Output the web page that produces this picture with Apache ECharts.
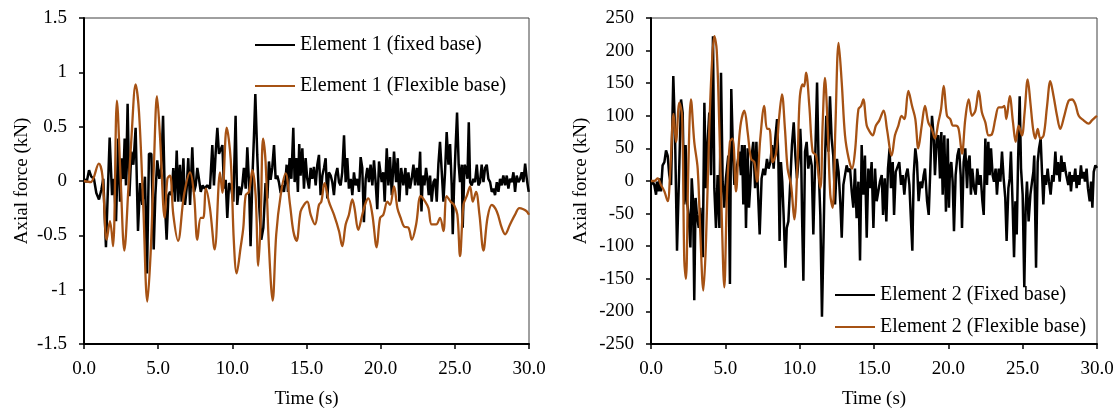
<!DOCTYPE html>
<html>
<head>
<meta charset="utf-8">
<script src="https://cdn.jsdelivr.net/npm/echarts@6/dist/echarts.min.js"></script>
<style>
html,body{margin:0;padding:0;background:#fff;}
#c{width:1118px;height:414px;}
</style>
</head>
<body>
<div id="c"></div>
<script>
// ---- Data (time in s, axial force in kN) ----
const xTicks = [0, 5, 10, 15, 20, 25, 30];
const leftNames = ['Element 1 (fixed base)', 'Element 1 (Flexible base)'];
const rightNames = ['Element 2 (Fixed base)', 'Element 2 (Flexible base)'];

const e1Fixed = [
[0,0.02],[0.18,-0.01],[0.34,0.10],[0.49,0.04],[0.67,0.02],[0.83,-0.11],[1.01,-0.17],[1.17,-0.08],[1.30,0.02],[1.48,-0.61],
[1.73,0.40],[1.89,-0.13],[2.02,0.02],[2.16,-0.37],[2.31,0.39],[2.43,-0.19],[2.54,0.21],[2.65,0.02],[2.74,0.39],[2.83,-0.04],
[2.94,0.71],[3.06,-0.14],[3.19,0.27],[3.33,0.15],[3.48,0.49],[3.64,-0.46],[3.78,-0.02],[3.93,-0.22],[4.11,0.04],[4.25,-0.85],
[4.38,0.25],[4.54,0.25],[4.70,-0.63],[4.81,-0.13],[4.94,0.19],[5.08,0.02],[5.21,0.12],[5.33,0.60],[5.46,-0.22],[5.57,-0.54],
[5.69,-0.13],[5.80,-0.10],[5.91,-0.13],[6.02,0.12],[6.13,-0.19],[6.25,0.28],[6.36,-0.19],[6.47,0.15],[6.58,-0.19],[6.70,0.21],
[6.81,-0.22],[6.92,-0.07],[7.03,0.21],[7.15,-0.22],[7.30,0.31],[7.42,-0.10],[7.53,-0.04],[7.64,0.12],[7.75,0.02],[7.87,-0.10],
[8.00,-0.04],[8.13,-0.07],[8.31,-0.04],[8.49,-0.07],[8.65,0.33],[8.76,-0.04],[8.88,0.27],[8.99,0.49],[9.10,0.25],[9.21,0.24],
[9.33,0.33],[9.44,-0.07],[9.55,0.01],[9.66,-0.34],[9.78,-0.02],[9.89,-0.04],[10.07,-0.19],[10.22,0.60],[10.33,-0.22],[10.45,-0.05],
[10.56,-0.13],[10.67,-0.04],[10.78,0.12],[10.90,-0.07],[11.01,0.31],[11.12,-0.01],[11.23,-0.60],[11.35,0.02],[11.46,0.42],[11.55,0.80],
[11.68,0.24],[11.82,-0.25],[11.95,-0.54],[12.09,-0.43],[12.24,-0.02],[12.36,-0.16],[12.47,0.18],[12.58,0.01],[12.69,0.12],[12.81,0.33],
[12.92,0.02],[13.03,0.05],[13.14,-0.01],[13.26,-0.11],[13.37,-0.04],[13.48,-0.10],[13.59,0.02],[13.66,0.15],[13.75,-0.10],[13.86,0.21],
[13.98,0.02],[14.11,0.49],[14.20,-0.01],[14.31,0.21],[14.42,-0.10],[14.51,0.34],[14.60,0.05],[14.72,0.30],[14.83,-0.07],[14.94,0.21],
[15.05,0.02],[15.17,-0.07],[15.28,0.12],[15.39,0.02],[15.50,0.13],[15.62,-0.04],[15.73,0.15],[15.84,0.24],[15.95,-0.13],[16.07,0.05],
[16.18,0.12],[16.29,0.21],[16.40,-0.16],[16.51,0.08],[16.63,0.05],[16.74,-0.01],[16.85,-0.13],[16.96,0.05],[17.08,0.12],[17.19,-0.01],
[17.30,-0.04],[17.41,0.08],[17.53,0.42],[17.64,-0.01],[17.75,0.21],[17.86,-0.07],[17.98,0.02],[18.09,-0.13],[18.20,0.08],[18.31,-0.04],
[18.43,0.02],[18.54,-0.10],[18.65,0.22],[18.76,0.12],[18.87,-0.38],[18.99,0.02],[19.10,0.12],[19.21,-0.01],[19.32,0.15],[19.44,-0.04],
[19.55,0.19],[19.66,-0.01],[19.77,-0.26],[19.89,0.18],[20.07,-0.01],[20.18,0.08],[20.27,-0.19],[20.41,0.30],[20.52,-0.04],[20.63,0.22],
[20.75,-0.13],[20.90,0.27],[21.04,-0.01],[21.15,0.21],[21.26,-0.19],[21.38,0.12],[21.53,-0.04],[21.67,0.12],[21.76,-0.13],[21.87,0.08],
[21.98,-0.07],[22.09,0.02],[22.21,0.15],[22.32,-0.04],[22.43,0.12],[22.54,-0.04],[22.66,0.27],[22.75,-0.28],[22.84,0.05],[22.95,-0.04],
[23.06,0.12],[23.15,0.02],[23.24,-0.13],[23.33,0.05],[23.44,-0.19],[23.56,-0.01],[23.67,0.02],[23.78,-0.19],[23.89,0.15],[24.00,0.36],
[24.12,0.08],[24.23,-0.19],[24.34,0.08],[24.45,0.45],[24.57,0.15],[24.68,0.34],[24.79,-0.04],[24.86,-0.49],[24.95,-0.04],[25.04,0.27],
[25.15,0.63],[25.26,0.15],[25.35,-0.01],[25.47,0.15],[25.53,-0.43],[25.65,0.15],[25.76,0.12],[25.85,0.02],[25.94,0.54],[26.03,-0.01],
[26.14,-0.04],[26.25,0.02],[26.36,-0.01],[26.48,0.15],[26.59,-0.04],[26.70,-0.01],[26.81,0.15],[26.93,-0.01],[27.04,0.12],[27.15,0.15],
[27.26,0.02],[27.38,-0.01],[27.49,-0.10],[27.60,-0.07],[27.71,-0.13],[27.83,-0.01],[27.94,-0.10],[28.05,0.02],[28.16,-0.04],[28.27,0.05],
[28.39,-0.04],[28.50,0.05],[28.61,-0.07],[28.72,0.02],[28.84,-0.01],[28.95,0.08],[29.06,-0.10],[29.17,0.05],[29.29,-0.01],[29.40,0.02],
[29.51,0.08],[29.62,-0.01],[29.74,0.16],[29.85,0.02],[29.98,-0.10]
];

const e1Flexible = [
[0,0],[0.45,-0.01],[1.0,0.16],[1.24,0.05],[1.53,-0.54],[1.75,-0.37],[1.96,-0.60],[2.22,0.74],[2.47,0.02],[2.72,-0.64],
[3.0,-0.05],[3.2,0.40],[3.48,0.89],[3.71,0.63],[4.0,-0.25],[4.27,-1.11],[4.49,-0.67],[4.72,0.18],[4.92,0.78],[5.12,0.42],
[5.44,-0.34],[5.62,0.02],[5.8,0.05],[6.02,-0.31],[6.34,-0.55],[6.74,-0.13],[7.15,0.08],[7.42,-0.13],[7.64,-0.54],[7.87,-0.34],
[8.04,-0.34],[8.22,-0.07],[8.49,-0.25],[8.81,-0.63],[9.17,0.08],[9.33,-0.11],[9.62,0.49],[9.89,0.20],[10.1,-0.55],[10.29,-0.85],
[10.56,-0.61],[10.74,-0.43],[10.9,-0.13],[11.12,-0.10],[11.35,0.10],[11.57,-0.13],[11.75,-0.78],[11.91,-0.37],[12.07,0.39],[12.24,0.18],
[12.47,-0.61],[12.72,-1.10],[12.96,-0.49],[13.26,-0.13],[13.59,0.07],[13.89,-0.22],[14.11,-0.46],[14.33,-0.55],[14.6,-0.28],[14.83,-0.22],
[15.05,-0.19],[15.28,-0.31],[15.57,-0.40],[15.84,-0.22],[16.0,-0.19],[16.22,-0.02],[16.51,-0.19],[16.85,-0.31],[17.19,-0.46],[17.41,-0.60],
[17.64,-0.40],[17.86,-0.31],[18.09,-0.17],[18.24,-0.25],[18.49,-0.45],[18.76,-0.31],[18.99,-0.20],[19.17,-0.16],[19.44,-0.31],[19.73,-0.61],
[19.96,-0.34],[20.18,-0.31],[20.45,-0.19],[20.63,-0.22],[20.9,-0.05],[21.13,-0.25],[21.35,-0.34],[21.58,-0.42],[21.87,-0.43],[22.1,-0.54],
[22.39,-0.40],[22.7,-0.14],[23.0,-0.19],[23.22,-0.25],[23.44,-0.40],[23.74,-0.40],[24.0,-0.34],[24.23,-0.46],[24.45,-0.14],[24.72,-0.19],
[24.95,-0.22],[25.17,-0.31],[25.35,-0.69],[25.58,-0.22],[25.8,-0.14],[26.03,-0.05],[26.21,-0.19],[26.43,-0.10],[26.66,-0.31],[26.93,-0.64],
[27.2,-0.34],[27.49,-0.22],[27.83,-0.28],[28.16,-0.43],[28.39,-0.49],[28.72,-0.40],[29.06,-0.31],[29.35,-0.25],[29.62,-0.26],[29.85,-0.28],
[30.0,-0.31]
];

const e2Fixed = [
[0,-6],[0.11,-1],[0.22,-6],[0.34,-21],[0.40,-1],[0.49,-16],[0.56,4],[0.67,-16],[0.78,24],[0.90,29],
[1.01,47],[1.12,39],[1.23,9],[1.35,-6],[1.50,161],[1.61,80],[1.75,-107],[1.91,29],[2.02,125],[2.13,105],
[2.24,-36],[2.33,55],[2.42,-31],[2.53,-52],[2.65,-102],[2.74,4],[2.83,-31],[2.91,-183],[3.00,-26],[3.09,-52],
[3.21,-72],[3.32,-41],[3.48,-117],[3.59,120],[3.70,-11],[3.81,60],[3.92,105],[4.04,9],[4.17,222],[4.26,-11],
[4.37,-72],[4.48,9],[4.60,-72],[4.71,166],[4.82,-1],[4.93,-41],[5.04,4],[5.20,39],[5.31,-158],[5.40,141],
[5.52,39],[5.61,-6],[5.72,14],[5.83,29],[5.94,45],[6.05,9],[6.12,55],[6.21,-36],[6.30,55],[6.39,-72],
[6.50,50],[6.59,-41],[6.68,-6],[6.77,39],[6.88,60],[7.00,-11],[7.09,60],[7.17,-1],[7.31,-82],[7.44,4],
[7.56,19],[7.67,9],[7.80,34],[7.91,19],[8.03,29],[8.14,55],[8.25,19],[8.36,65],[8.48,95],[8.57,29],
[8.65,-92],[8.74,29],[8.83,-1],[8.92,-52],[9.04,-133],[9.13,-72],[9.24,-62],[9.37,-1],[9.48,55],[9.60,90],
[9.71,39],[9.82,4],[9.93,34],[10.04,80],[10.09,55],[10.16,-52],[10.25,-153],[10.36,45],[10.47,60],[10.58,19],
[10.70,39],[10.81,24],[10.92,-82],[11.03,19],[11.17,151],[11.28,19],[11.39,-52],[11.50,-208],[11.61,-82],[11.70,29],
[11.79,100],[11.93,45],[12.04,130],[12.15,65],[12.26,39],[12.38,-36],[12.51,34],[12.62,14],[12.74,-36],[12.83,-87],
[12.94,-6],[13.05,9],[13.16,24],[13.27,14],[13.39,19],[13.50,-16],[13.61,-41],[13.72,19],[13.83,-57],[13.95,-1],
[14.06,-122],[14.17,55],[14.28,-21],[14.39,39],[14.51,-87],[14.62,19],[14.73,-11],[14.84,29],[14.96,-72],[15.07,19],
[15.18,-31],[15.29,-16],[15.40,-1],[15.52,9],[15.61,-52],[15.72,4],[15.83,-62],[15.94,19],[16.05,50],[16.14,-11],
[16.26,29],[16.35,-52],[16.46,14],[16.59,14],[16.70,29],[16.82,-6],[16.93,9],[17.04,-21],[17.15,9],[17.26,19],
[17.38,-6],[17.49,-62],[17.58,-107],[17.67,9],[17.78,50],[17.89,29],[18.00,-31],[18.12,-1],[18.23,-11],[18.34,9],
[18.43,19],[18.57,-31],[18.68,-52],[18.79,19],[18.90,100],[19.01,70],[19.10,9],[19.22,65],[19.33,70],[19.44,4],
[19.53,75],[19.62,-21],[19.73,70],[19.84,-47],[19.96,65],[20.04,-41],[20.11,19],[20.20,29],[20.29,-1],[20.38,-77],
[20.49,9],[20.61,39],[20.72,50],[20.83,9],[20.92,-72],[21.03,29],[21.14,50],[21.26,-11],[21.34,29],[21.43,39],
[21.52,-21],[21.61,19],[21.73,-11],[21.84,-21],[21.95,19],[22.06,-6],[22.17,9],[22.29,-31],[22.38,-52],[22.49,65],
[22.60,-6],[22.69,60],[22.78,9],[22.87,50],[22.98,9],[23.07,-1],[23.18,19],[23.27,-21],[23.39,19],[23.50,-1],
[23.61,45],[23.72,4],[23.83,-26],[23.92,-92],[24.04,-11],[24.13,4],[24.21,45],[24.33,-41],[24.42,-117],[24.51,-31],
[24.60,-82],[24.69,29],[24.80,130],[24.89,19],[25.00,-21],[25.11,-163],[25.20,-41],[25.29,-1],[25.40,-62],[25.52,-21],
[25.63,-1],[25.72,14],[25.78,39],[25.90,-133],[26.01,29],[26.10,50],[26.21,65],[26.30,14],[26.39,-36],[26.48,9],
[26.57,-6],[26.68,19],[26.77,-1],[26.88,-21],[26.99,9],[27.08,-1],[27.20,45],[27.29,9],[27.38,29],[27.49,-1],
[27.60,39],[27.69,14],[27.80,29],[27.89,14],[27.98,4],[28.07,-6],[28.16,14],[28.25,-16],[28.34,9],[28.43,-1],
[28.54,19],[28.63,-11],[28.72,9],[28.81,-6],[28.92,24],[29.01,4],[29.10,14],[29.19,-1],[29.30,19],[29.39,-11],
[29.51,-31],[29.60,-1],[29.69,-41],[29.78,14],[29.89,24],[30.0,20]
];

const e2Flexible = [
[0,0],[0.22,0],[0.45,4],[0.67,-6],[0.9,-16],[1.12,-31],[1.3,19],[1.52,103],[1.68,60],[1.91,120],
[2.09,100],[2.24,-122],[2.35,-150],[2.51,19],[2.69,125],[2.91,60],[3.14,19],[3.32,-82],[3.52,-168],[3.7,-92],
[3.92,80],[4.1,181],[4.26,222],[4.42,201],[4.6,80],[4.75,-47],[4.93,-163],[5.11,-21],[5.31,60],[5.49,65],
[5.72,-16],[5.9,55],[6.05,90],[6.28,108],[6.5,75],[6.73,34],[6.95,29],[7.13,-1],[7.35,65],[7.62,115],
[7.8,80],[7.96,80],[8.18,29],[8.41,42],[8.63,100],[8.81,133],[9.01,80],[9.19,19],[9.42,-6],[9.64,-59],
[9.87,39],[10.0,125],[10.2,148],[10.3,145],[10.43,166],[10.65,115],[10.87,45],[11.1,39],[11.39,-11],[11.55,90],
[11.7,158],[11.88,85],[12.06,-21],[12.22,-41],[12.4,80],[12.62,212],[12.83,151],[13.05,70],[13.3,34],[13.52,19],
[13.72,45],[13.95,110],[14.13,115],[14.28,125],[14.51,85],[14.73,75],[14.91,70],[15.13,85],[15.36,93],[15.65,108],
[15.87,80],[16.19,39],[16.41,70],[16.64,85],[16.86,100],[17.04,95],[17.31,138],[17.56,115],[17.78,95],[17.98,50],
[18.21,85],[18.43,115],[18.65,90],[18.88,80],[19.1,65],[19.33,90],[19.51,110],[19.69,146],[19.91,100],[20.13,95],
[20.31,85],[20.5,85],[20.69,80],[20.92,42],[21.14,95],[21.37,125],[21.59,100],[21.82,108],[22.04,138],[22.26,105],
[22.49,90],[22.71,70],[22.94,72],[23.16,95],[23.39,113],[23.61,113],[23.76,115],[23.9,95],[24.13,130],[24.35,90],
[24.53,60],[24.73,85],[24.95,70],[25.13,105],[25.34,156],[25.52,120],[25.7,80],[25.85,65],[26.01,80],[26.19,65],
[26.41,70],[26.64,115],[26.86,153],[27.08,130],[27.31,100],[27.53,80],[27.8,100],[28.09,123],[28.32,125],[28.54,118],
[28.77,100],[29.1,93],[29.44,88],[29.66,93],[29.89,98],[30.0,100]
];

// ---- Chart ----
const FONT = '"Liberation Serif", "Times New Roman", serif';
const BLACK = '#000000';
const ORANGE = '#A65214';
const chart = echarts.init(document.getElementById('c'), null, {renderer: 'canvas'});

function xAxis(gi) {
  return {
    type: 'value', gridIndex: gi, min: 0, max: 30, interval: 5,
    name: 'Time (s)', nameLocation: 'middle', nameGap: 46,
    nameTextStyle: {fontFamily: FONT, fontSize: 19, color: '#000'},
    axisLine: {show: true, onZero: false, lineStyle: {color: '#000', width: 2}},
    axisTick: {show: true, inside: false, length: 5, lineStyle: {color: '#000', width: 1.5}},
    axisLabel: {fontFamily: FONT, fontSize: 19, color: '#000', margin: 16,
      formatter: v => v.toFixed(1)},
    splitLine: {show: false}
  };
}
function yAxis(gi, min, max, step, gap) {
  return {
    type: 'value', gridIndex: gi, min: min, max: max, interval: step,
    name: 'Axial force (kN)', nameLocation: 'middle', nameGap: gap,
    nameTextStyle: {fontFamily: FONT, fontSize: 19, color: '#000'},
    axisLine: {show: true, onZero: false, lineStyle: {color: '#000', width: 2}},
    axisTick: {show: true, inside: false, length: 5, lineStyle: {color: '#000', width: 1.5}},
    axisLabel: {fontFamily: FONT, fontSize: 19, color: '#000', margin: 17},
    splitLine: {show: false}
  };
}
function line(name, data, color, width, xi, smooth) {
  return {
    name: name, type: 'line', xAxisIndex: xi, yAxisIndex: xi, data: data,
    showSymbol: false, symbol: 'none', smooth: smooth, animation: false,
    lineStyle: {color: color, width: width}, itemStyle: {color: color}
  };
}

chart.setOption({
  backgroundColor: '#fff',
  animation: false,
  grid: [
    {left: 84, right: 589, top: 18, bottom: 67, show: true, borderColor: '#404040', borderWidth: 1},
    {left: 651, right: 21, top: 18, bottom: 67, show: true, borderColor: '#404040', borderWidth: 1}
  ],
  xAxis: [xAxis(0), xAxis(1)],
  yAxis: [yAxis(0, -1.5, 1.5, 0.5, 52), yAxis(1, -250, 250, 50, 60)],
  legend: [
    {data: leftNames, orient: 'vertical', left: 255, top: 35, padding: 0, itemWidth: 40, itemHeight: 2, itemGap: 21,
     icon: 'rect', textStyle: {fontFamily: FONT, fontSize: 20, color: '#000'}},
    {data: rightNames, orient: 'vertical', left: 835, top: 285, padding: 0, itemWidth: 40, itemHeight: 2, itemGap: 12,
     icon: 'rect', textStyle: {fontFamily: FONT, fontSize: 20, color: '#000'}}
  ],
  series: [
    line(leftNames[0], e1Fixed, BLACK, 2.5, 0, false),
    line(leftNames[1], e1Flexible, ORANGE, 2.3, 0, 0.35),
    line(rightNames[0], e2Fixed, BLACK, 2.5, 1, false),
    line(rightNames[1], e2Flexible, ORANGE, 2.3, 1, 0.35)
  ]
});
</script>
</body>
</html>
